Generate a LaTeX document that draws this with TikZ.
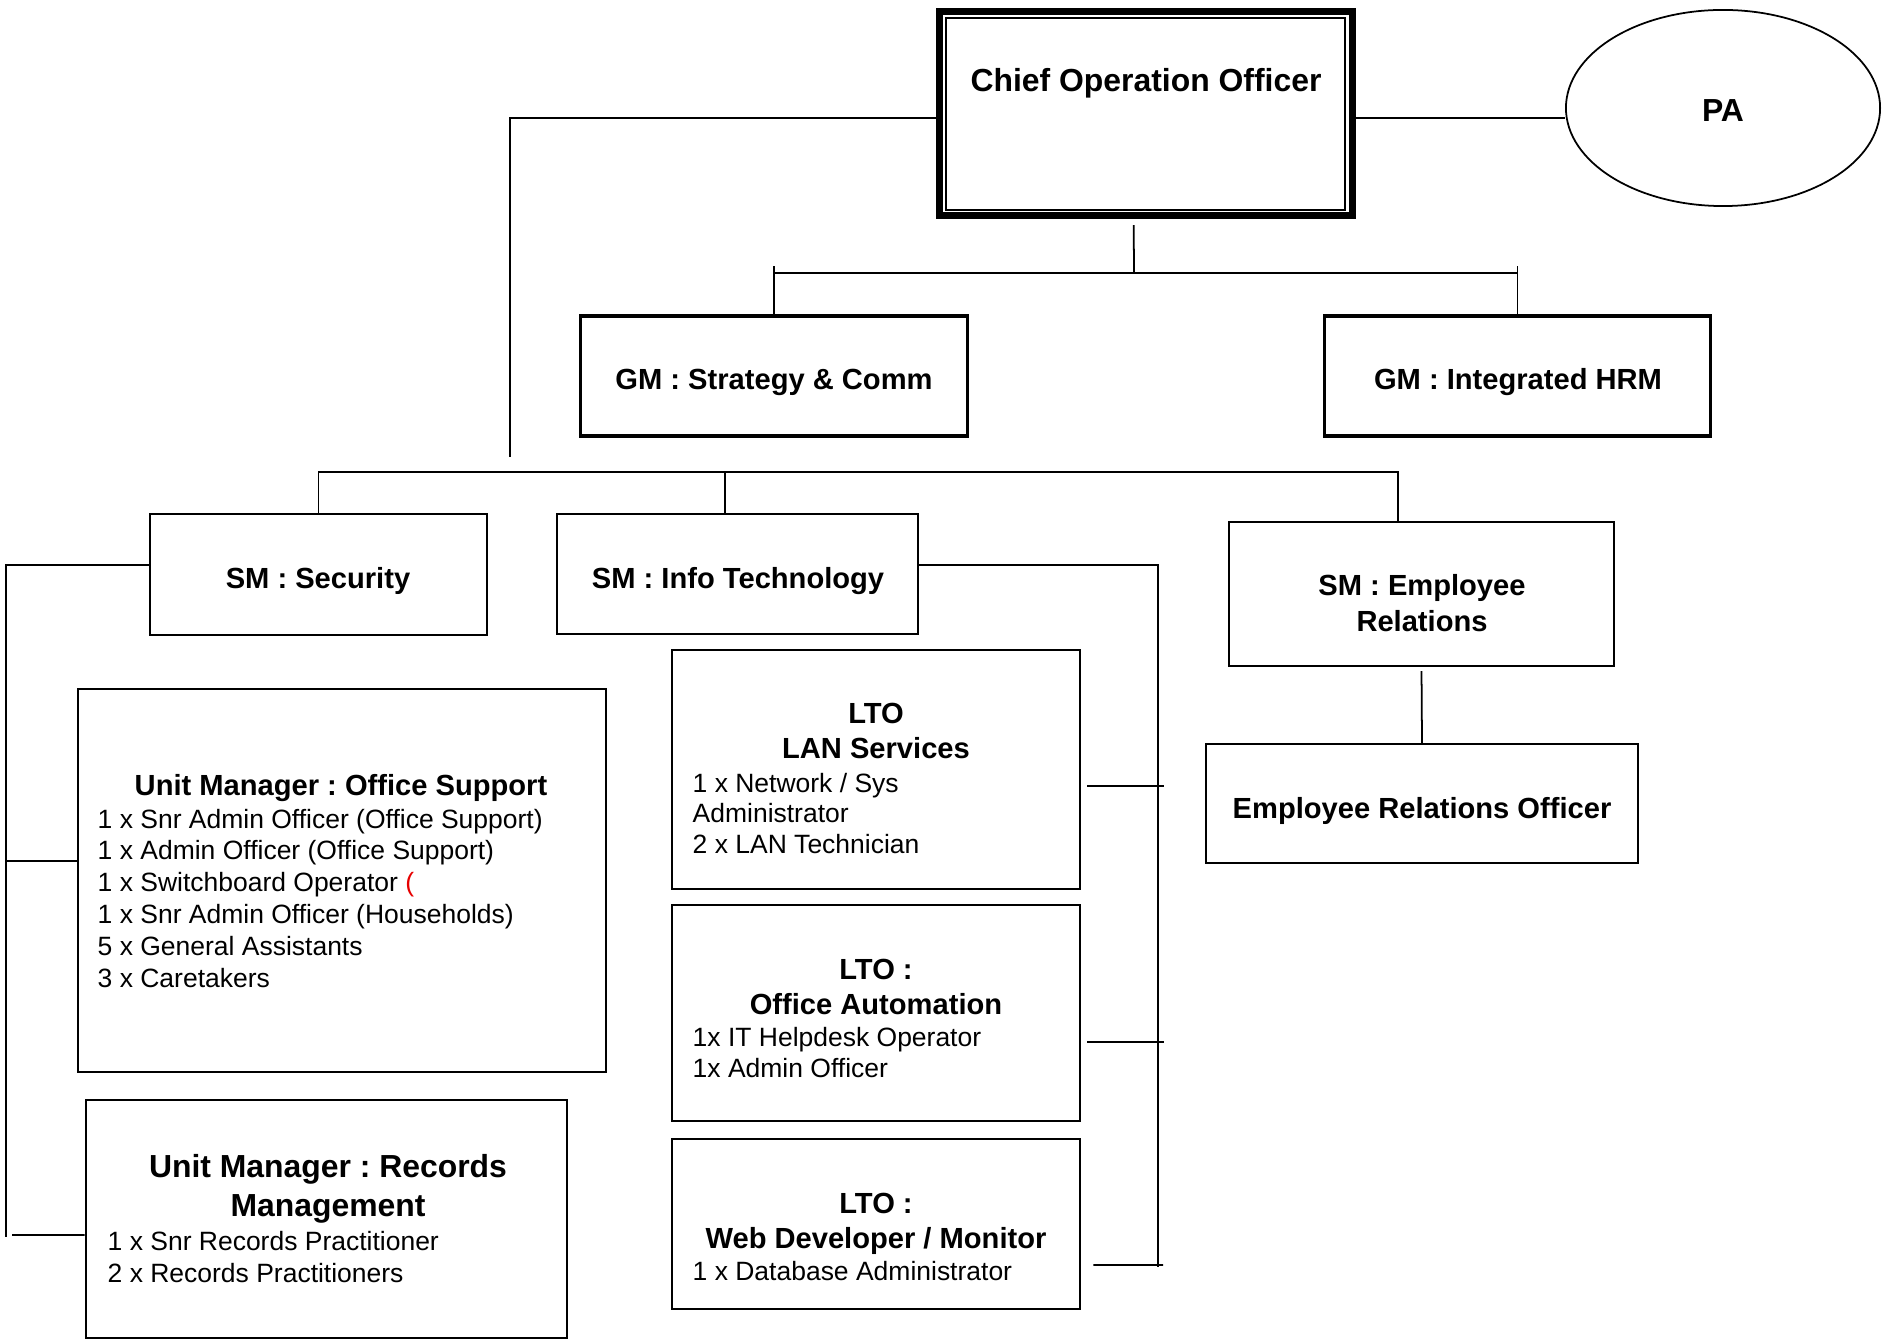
\documentclass[tikz,border=0pt]{standalone}
\usepackage{fontspec}
\setmainfont{Liberation Sans}
\usetikzlibrary{shapes.geometric}
\newcommand\fbig{\fontsize{9.07pt}{11.1pt}\selectfont\bfseries}
\newcommand\fmed{\fontsize{8.28pt}{10pt}\selectfont\bfseries}
\newcommand\fsml[1]{\fontsize{7.53pt}{#1}\selectfont}
\definecolor{redparen}{RGB}{230,0,0}
\frenchspacing
\begin{document}
\frenchspacing
\begin{tikzpicture}[x=0.01cm,y=-0.01cm,
  box/.style={draw, line width=0.65pt, inner sep=0pt},
  gmbox/.style={draw, line width=0.9pt, inner sep=0pt},
  thinbox/.style={draw, line width=0.45pt, inner sep=0pt},
  conn/.style={line width=0.5pt},
  txt/.style={inner sep=0pt, anchor=base},
  lst/.style={inner sep=0pt, anchor=base west},
]
\useasboundingbox (0,0) rectangle (1883,1340);
% ---------- boxes ----------
\node[draw, line width=2pt, inner sep=0pt, minimum width=4.127cm, minimum height=2.038cm] (coo) at (1145.7,113.6) {};
\node[draw, line width=0.6pt, inner sep=0pt, minimum width=3.99cm, minimum height=1.915cm] (cooin) at (1145.5,113.8) {};
\node[draw, ellipse, line width=0.5pt, inner sep=0pt, minimum width=3.14cm, minimum height=1.96cm] (pa) at (1723,108) {};
\node[gmbox, minimum width=3.86cm, minimum height=1.20cm] (gms) at (774,376) {};
\node[gmbox, minimum width=3.85cm, minimum height=1.20cm] (gmh) at (1517.5,376) {};
\node[thinbox, minimum width=3.37cm, minimum height=1.21cm] (secu) at (318.5,574.5) {};
\node[box, minimum width=3.61cm, minimum height=1.20cm] (it) at (737.5,574) {};
\node[box, minimum width=3.85cm, minimum height=1.44cm] (er) at (1421.5,594) {};
\node[box, minimum width=4.32cm, minimum height=1.19cm] (ero) at (1422,803.5) {};
\node[thinbox, minimum width=5.28cm, minimum height=3.83cm] (os) at (342,880.5) {};
\node[box, minimum width=4.81cm, minimum height=2.38cm] (rec) at (326.5,1219) {};
\node[box, minimum width=4.08cm, minimum height=2.39cm] (lan) at (876,769.5) {};
\node[box, minimum width=4.08cm, minimum height=2.16cm] (oa) at (876,1013) {};
\node[box, minimum width=4.08cm, minimum height=1.70cm] (web) at (876,1224) {};
% ---------- texts ----------
\node[txt] (tcoo) at (1146,92) {\fbig Chief Operation Officer};
\node[txt] (tpa) at (1723,122) {\fbig PA};
\node[txt] (tgms) at (774,390) {\fmed GM : Strategy \& Comm};
\node[txt] (tgmh) at (1518,390) {\fmed GM : Integrated HRM};
\node[txt] (tsec) at (318,588) {\fmed SM : Security};
\node[txt] (tit) at (738,588) {\fmed SM : Info Technology};
\node[txt] (ter) at (1422,595) {\fontsize{8.28pt}{10.24pt}\selectfont\bfseries\begin{tabular}[t]{@{}c@{}}SM : Employee\\Relations\end{tabular}};
\node[txt] (tero) at (1422,818) {\fmed Employee Relations Officer};
\node[txt] (tos) at (341,795) {\fmed Unit Manager : Office Support};
\node[lst] (los) at (97,828) {\fsml{9.05pt}\begin{tabular}[t]{@{}l@{}}1 x Snr Admin Officer (Office Support)\\1 x Admin Officer (Office Support)\\1 x Switchboard Operator \textcolor{redparen}{(}\\1 x Snr Admin Officer (Households)\\5 x General Assistants\\3 x Caretakers\end{tabular}};
\node[txt] (trec) at (328,1177) {\fbig\begin{tabular}[t]{@{}c@{}}Unit Manager : Records\\Management\end{tabular}};
\node[lst] (lrec) at (107,1250) {\fsml{9.1pt}\begin{tabular}[t]{@{}l@{}}1 x Snr Records Practitioner\\2 x Records Practitioners\end{tabular}};
\node[txt] (tlan) at (876,723) {\fontsize{8.28pt}{9.96pt}\selectfont\bfseries\begin{tabular}[t]{@{}c@{}}LTO\\LAN Services\end{tabular}};
\node[lst] (llan) at (692,792) {\fsml{8.68pt}\begin{tabular}[t]{@{}l@{}}1 x Network / Sys\\Administrator\\2 x LAN Technician\end{tabular}};
\node[txt] (toa) at (876,979) {\fontsize{8.28pt}{9.96pt}\selectfont\bfseries\begin{tabular}[t]{@{}c@{}}LTO :\\Office Automation\end{tabular}};
\node[lst] (loa) at (692,1046) {\fsml{8.82pt}\begin{tabular}[t]{@{}l@{}}1x IT Helpdesk Operator\\1x Admin Officer\end{tabular}};
\node[txt] (tweb) at (876,1213) {\fontsize{8.28pt}{9.96pt}\selectfont\bfseries\begin{tabular}[t]{@{}c@{}}LTO :\\Web Developer / Monitor\end{tabular}};
\node[lst] (lweb) at (692,1280) {\fsml{8.9pt}1 x Database Administrator};
% ---------- connectors ----------
\coordinate (v1) at (510,457);
\coordinate (b1) at (1134,273);
\coordinate (b2) at (318,472);
\coordinate (sl) at (6,1237);
\coordinate (rl) at (12,1235);
\coordinate (ir) at (1158,1267);
\coordinate (wr) at (1163,1265);
\draw[conn] ([yshift=-1.35pt]coo.west) -| (v1);
\draw[conn] ([yshift=-1.35pt]coo.east) -- ([yshift=-1.35pt]coo.east -| pa.west);
\draw[conn] ([xshift=-0.12cm,yshift=-0.06cm]coo.south) -- (b1);
\draw[conn] (gms.north) -- ++(0,-48);
\draw[conn] (gmh.north) -- ++(0,-48);
\draw[conn] (gms.north |- b1) -- (gmh.north |- b1);
\draw[conn] (secu.north) -- (secu.north |- b2) -- ([xshift=-0.235cm]er.north |- b2) -- ([xshift=-0.235cm]er.north);
\draw[conn] ([xshift=-0.125cm]it.north) -- ([xshift=-0.125cm]it.north |- b2);
\draw[conn] ([yshift=0.095cm]secu.west) -| (sl);
\draw[conn] ([yshift=0.195cm]os.west) -- ([yshift=0.195cm]os.west -| sl);
\draw[conn] ([yshift=-0.16cm]rec.west) -- (rl);
\draw[conn] ([yshift=0.09cm]it.east) -| (ir);
\draw[conn] ([xshift=0.06cm,yshift=-0.165cm]lan.east) -- ([xshift=0.06cm,yshift=-0.165cm]lan.east -| ir);
\draw[conn] ([xshift=0.06cm,yshift=-0.29cm]oa.east) -- ([xshift=0.06cm,yshift=-0.29cm]oa.east -| ir);
\draw[conn] ([xshift=0.12cm,yshift=-0.41cm]web.east) -- (wr);
\draw[conn] ([yshift=-0.04cm]er.south) -- (ero.north);
\end{tikzpicture}
\end{document}
